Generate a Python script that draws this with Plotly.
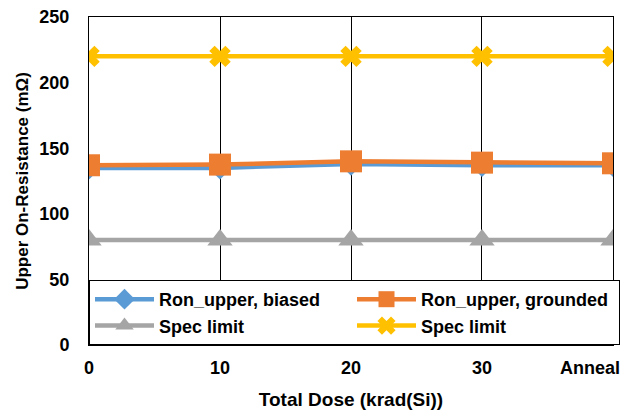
import plotly.graph_objects as go

doses = ['0', '10', '20', '30', 'Anneal']
biased = [135, 135, 138, 137, 137]
grounded = [137, 137.5, 140, 139, 138.5]
spec_low = [80, 80, 80, 80, 80]
spec_high = [220, 220, 220, 220, 220]
y_ticks = [0, 50, 100, 150, 200, 250]

xs = list(range(len(doses)))
font_bold = 'Liberation Sans, Arial'

# last category sits on the right border; its label is drawn right-aligned below
tick_labels = ['<b>%s</b>' % d for d in doses[:-1]] + ['']

fig = go.Figure()
fig.add_trace(go.Scatter(x=xs, y=biased, name='<b>Ron_upper, biased</b>', mode='lines+markers',
                         line=dict(color='#5B9BD5', width=4.5),
                         marker=dict(symbol='diamond', size=18, color='#5B9BD5')))
fig.add_trace(go.Scatter(x=xs, y=grounded, name='<b>Ron_upper, grounded</b>', mode='lines+markers',
                         line=dict(color='#ED7D31', width=4.5),
                         marker=dict(symbol='square', size=22, color='#ED7D31')))
fig.add_trace(go.Scatter(x=xs, y=spec_low, name='<b>Spec limit</b>', mode='lines+markers',
                         line=dict(color='#A5A5A5', width=4.5),
                         marker=dict(symbol='triangle-up', size=22, color='#A5A5A5')))
fig.add_trace(go.Scatter(x=xs, y=spec_high, name='<b>Spec limit</b>', mode='lines+markers',
                         line=dict(color='#FFC000', width=4.5),
                         marker=dict(symbol='x', size=19, color='#FFC000')))

fig.add_annotation(x=xs[-1], y=0, xref='x', yref='paper', text='<b>%s</b>' % doses[-1],
                   showarrow=False, xanchor='right', yanchor='top', xshift=8, yshift=-12,
                   borderpad=0, font=dict(size=18, family=font_bold, color='black'))

# page body has an 8px margin, so the figure is a bit smaller than the window
fig.update_layout(
    width=620, height=406,
    margin=dict(l=81, r=15, t=9, b=69),
    paper_bgcolor='white', plot_bgcolor='white',
    font=dict(family=font_bold, size=18, color='black'),
    showlegend=True,
    legend=dict(orientation='h', x=0, y=0, xanchor='left', yanchor='bottom',
                entrywidth=0.5, entrywidthmode='fraction',
                bgcolor='white', bordercolor='black', borderwidth=1,
                font=dict(size=18, family=font_bold), itemwidth=59,
                tracegroupgap=0),
)
fig.update_xaxes(
    range=[-0.0001, 4.0001], tickvals=xs, ticktext=tick_labels,
    showgrid=True, gridcolor='black', gridwidth=1,
    showline=True, linecolor='black', linewidth=1, mirror=True,
    ticks='', zeroline=False, automargin=False, ticklabelstandoff=6,
    ticklabeloverflow='allow',
    title=dict(text='<b>Total Dose (krad(Si))</b>', font=dict(size=19), standoff=16),
)
fig.update_yaxes(
    range=[0, 250.01], tickvals=y_ticks,
    ticktext=['<b>%d</b>' % v for v in y_ticks],
    showgrid=False, showline=True, linecolor='black', linewidth=1, mirror=True,
    zeroline=False, ticks='', ticklabelstandoff=15, automargin=False,
    ticklabeloverflow='allow',
    title=dict(text='<b>Upper On-Resistance (mΩ)</b>', font=dict(size=17), standoff=6),
)

fig.write_html('out.html')
